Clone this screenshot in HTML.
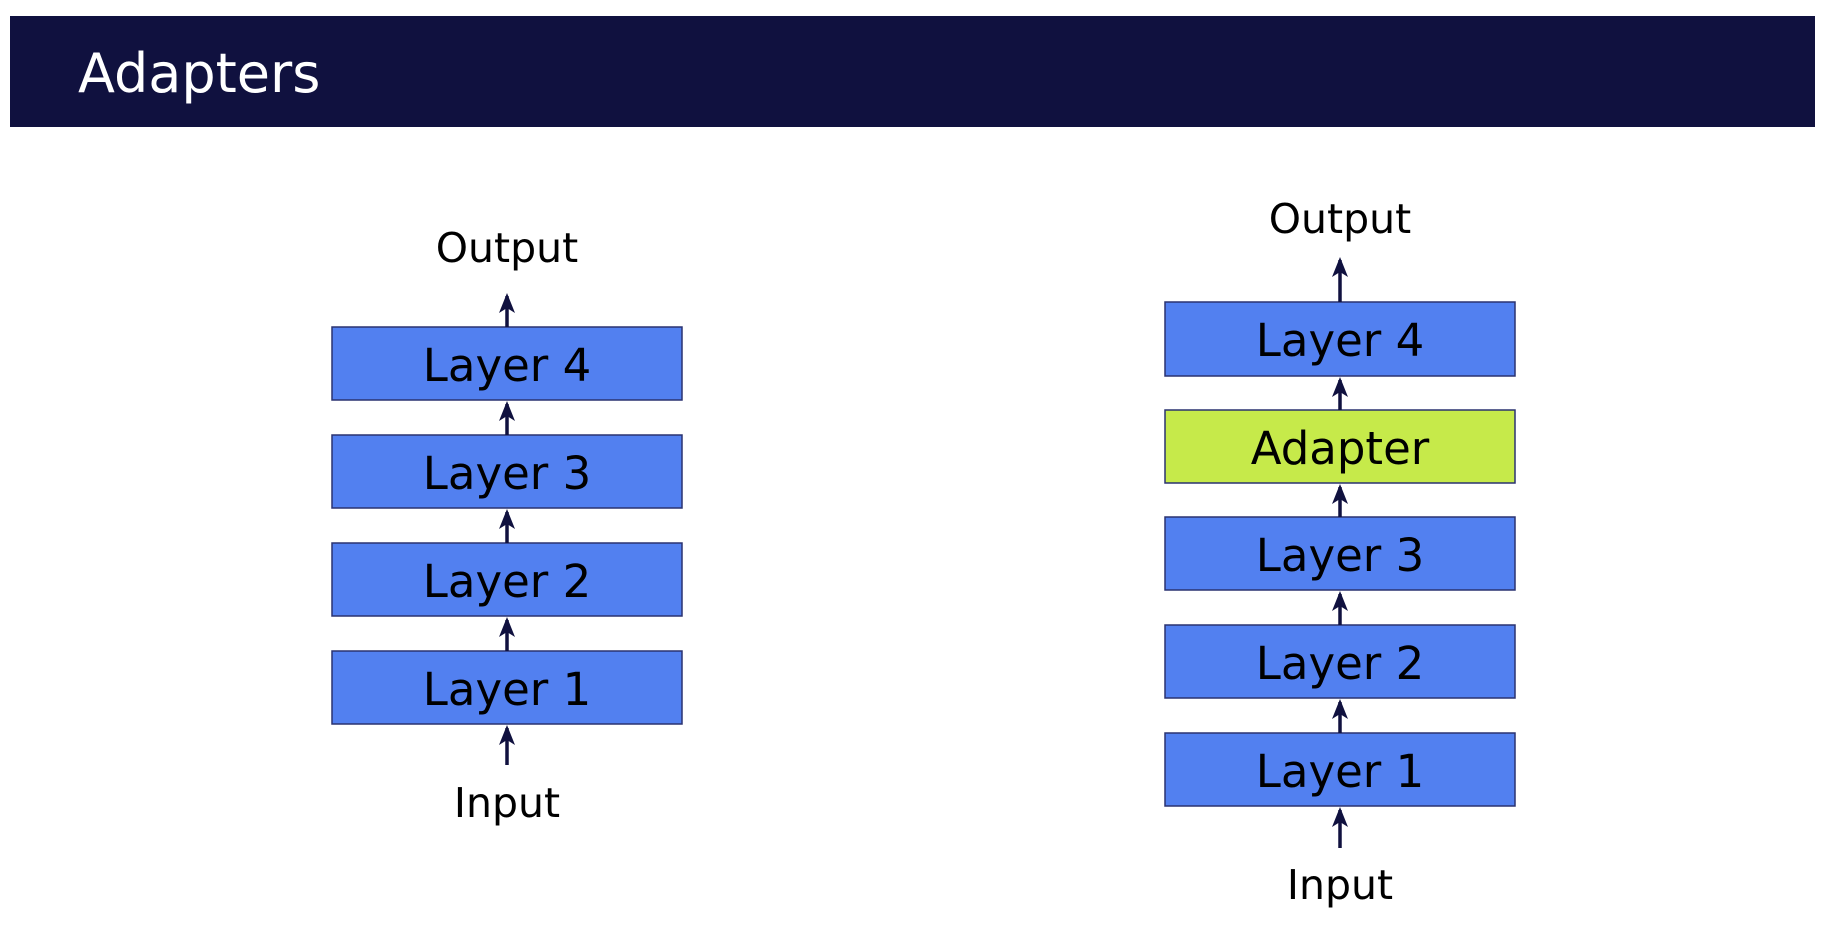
<!DOCTYPE html>
<html><head><style>
html,body{margin:0;padding:0;width:1828px;height:946px;background:#fff;overflow:hidden;font-family:"DejaVu Sans",sans-serif;}
</style></head><body>
<svg width="1828" height="946" viewBox="0 0 1828 946" xmlns="http://www.w3.org/2000/svg">
<rect x="10" y="16" width="1805" height="111" fill="#10113f"/>
<text x="78" y="92" font-size="54" fill="#fff" font-family="DejaVu Sans, sans-serif" font-weight="normal">Adapters</text>
<g font-family="DejaVu Sans, sans-serif" text-anchor="middle" fill="#000">
<g stroke="#2a3270" stroke-width="1.5">
<rect x="332" y="327" width="350" height="73" fill="#5280f0"/>
<rect x="332" y="435" width="350" height="73" fill="#5280f0"/>
<rect x="332" y="543" width="350" height="73" fill="#5280f0"/>
<rect x="332" y="651" width="350" height="73" fill="#5280f0"/>
<rect x="1165" y="302" width="350" height="74" fill="#5280f0"/>
<rect x="1165" y="410" width="350" height="73" fill="#c6ea4a"/>
<rect x="1165" y="517" width="350" height="73" fill="#5280f0"/>
<rect x="1165" y="625" width="350" height="73" fill="#5280f0"/>
<rect x="1165" y="733" width="350" height="73" fill="#5280f0"/>
</g>
<g font-size="45">
<text x="507" y="381">Layer 4</text>
<text x="507" y="489">Layer 3</text>
<text x="507" y="597">Layer 2</text>
<text x="507" y="705">Layer 1</text>
<text x="1340" y="356">Layer 4</text>
<text x="1340" y="464">Adapter</text>
<text x="1340" y="571">Layer 3</text>
<text x="1340" y="679">Layer 2</text>
<text x="1340" y="787">Layer 1</text>
</g>
<g font-size="41">
<text x="507" y="262">Output</text>
<text x="507" y="817">Input</text>
<text x="1340" y="233">Output</text>
<text x="1340" y="899">Input</text>
</g>
</g>
<g stroke="#10113f" stroke-width="3.5" fill="none">
<path d="M507 327V296"/><path d="M507 435V404"/><path d="M507 543V512"/><path d="M507 651V620"/><path d="M507 765V728"/>
<path d="M1340 302V260"/><path d="M1340 410V380"/><path d="M1340 517V487"/><path d="M1340 625V594"/><path d="M1340 733V702"/><path d="M1340 848V810"/>
</g>
<g fill="#10113f">
<path d="M507 293l-8 20 8-5 8 5z"/><path d="M507 401l-8 20 8-5 8 5z"/><path d="M507 509l-8 20 8-5 8 5z"/><path d="M507 617l-8 20 8-5 8 5z"/><path d="M507 725l-8 20 8-5 8 5z"/>
<path d="M1340 257l-8 20 8-5 8 5z"/><path d="M1340 377l-8 20 8-5 8 5z"/><path d="M1340 484l-8 20 8-5 8 5z"/><path d="M1340 591l-8 20 8-5 8 5z"/><path d="M1340 699l-8 20 8-5 8 5z"/><path d="M1340 807l-8 20 8-5 8 5z"/>
</g>
</svg>
</body></html>
